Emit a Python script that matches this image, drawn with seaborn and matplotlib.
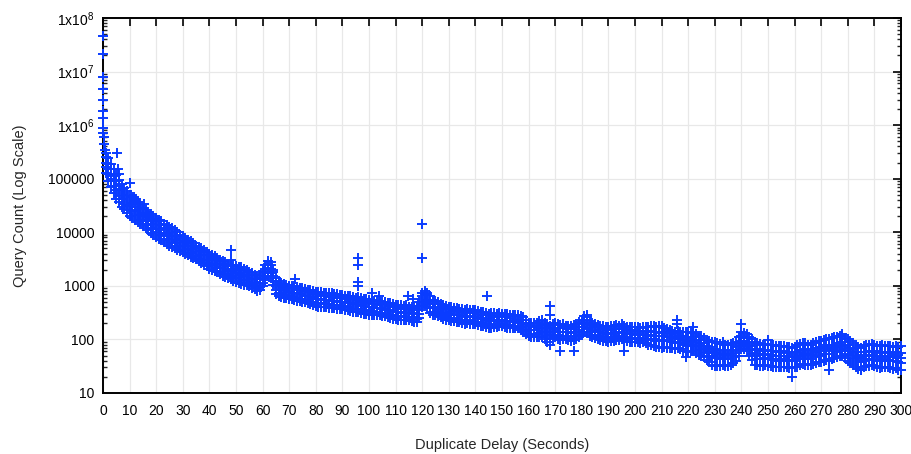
import numpy as np
import pandas as pd
import seaborn as sns
import matplotlib
import matplotlib.pyplot as plt
from matplotlib.ticker import FixedLocator, FixedFormatter, LogLocator, NullFormatter

matplotlib.use('Agg')

# per-second band of the scatter (1..300 s), read from top edge to bottom edge
seconds = list(range(1, 301))

band_hi = [
    300000, 240000, 190000, 150000, 115000, 95000, 80000, 68000, 60000, 50000,
    45000, 40000, 36000, 32000, 28000, 26000, 24000, 22000, 20000, 18500,
    17000, 16000, 14500, 13500, 12800, 11800, 10800, 10000, 9000, 8500,
    7800, 7200, 6800, 6200, 5600, 5300, 5000, 4600, 4300, 4000,
    3800, 3600, 3300, 3100, 2900, 2750, 2600, 2500, 2400, 2300,
    2250, 2200, 2050, 1950, 1800, 1700, 1600, 1500, 1600, 1900,
    2400, 2900, 2800, 2000, 1400, 1250, 1150, 1100, 1050, 1000,
    1000, 980, 950, 920, 900, 870, 840, 820, 800, 780,
    770, 760, 750, 740, 730, 720, 700, 690, 680, 680,
    660, 650, 640, 620, 600, 610, 590, 570, 560, 550,
    540, 530, 520, 520, 500, 490, 480, 470, 450, 440,
    430, 430, 420, 430, 410, 400, 410, 420, 500, 720,
    800, 750, 650, 550, 520, 490, 460, 440, 420, 400,
    395, 390, 380, 375, 370, 360, 365, 350, 355, 350,
    340, 330, 320, 310, 300, 305, 310, 300, 310, 300,
    300, 295, 290, 290, 280, 285, 270, 260, 230, 200,
    200, 200, 200, 220, 230, 200, 190, 180, 190, 200,
    190, 185, 190, 180, 180, 175, 185, 190, 210, 230,
    270, 260, 220, 200, 190, 185, 180, 175, 172, 170,
    180, 175, 185, 180, 190, 175, 172, 170, 170, 170,
    170, 165, 172, 168, 170, 175, 180, 170, 175, 180,
    165, 155, 150, 145, 140, 145, 140, 138, 135, 135,
    130, 135, 125, 118, 115, 105, 98, 92, 90, 88,
    85, 82, 88, 80, 80, 82, 85, 90, 110, 135,
    130, 125, 110, 100, 88, 85, 82, 80, 82, 80,
    80, 78, 76, 75, 75, 74, 72, 72, 70, 72,
    78, 82, 85, 84, 80, 80, 85, 90, 95, 95,
    98, 100, 100, 105, 110, 112, 115, 115, 108, 100,
    95, 85, 78, 72, 70, 75, 78, 80, 82, 80,
    76, 74, 78, 76, 75, 74, 72, 76, 72, 75,
]

band_upper = [
    250000, 185000, 150000, 112000, 92000, 73000, 65000, 53000, 47000, 40000,
    35000, 33000, 29000, 27000, 23000, 22000, 19500, 18000, 16000, 15500,
    14000, 13500, 12000, 11500, 10200, 9900, 8900, 8600, 7700, 7200,
    6600, 6300, 5700, 5500, 5000, 4800, 4400, 4200, 3800, 3700,
    3400, 3300, 3000, 2900, 2550, 2500, 2300, 2300, 2100, 2100,
    1950, 1950, 1750, 1780, 1580, 1600, 1400, 1350, 1350, 1700,
    2100, 2600, 2400, 1850, 1180, 1100, 1000, 1000, 920, 950,
    880, 910, 840, 860, 790, 810, 750, 760, 700, 710,
    660, 690, 640, 680, 630, 650, 600, 640, 590, 610,
    570, 590, 545, 565, 510, 555, 500, 515, 475, 490,
    460, 480, 445, 465, 430, 450, 410, 425, 395, 405,
    375, 395, 365, 390, 360, 370, 350, 370, 420, 650,
    700, 670, 520, 490, 450, 455, 405, 405, 365, 370,
    340, 355, 330, 345, 315, 325, 315, 320, 305, 320,
    290, 300, 280, 290, 255, 275, 265, 275, 270, 280,
    260, 270, 250, 270, 240, 265, 230, 235, 195, 185,
    175, 180, 172, 195, 185, 178, 155, 160, 162, 185,
    160, 165, 160, 172, 155, 160, 155, 172, 172, 205,
    230, 232, 185, 183, 168, 170, 155, 160, 148, 152,
    150, 156, 155, 162, 155, 158, 148, 152, 144, 152,
    140, 146, 144, 146, 135, 146, 136, 140, 134, 140,
    132, 136, 126, 132, 115, 128, 117, 118, 109, 110,
    103, 112, 97, 98, 86, 85, 75, 73, 65, 67,
    61, 63, 63, 63, 60, 64, 63, 73, 86, 115,
    108, 107, 86, 79, 64, 66, 60, 63, 61, 63,
    60, 61, 57, 60, 57, 60, 55, 57, 54, 57,
    57, 63, 63, 66, 60, 63, 63, 70, 69, 73,
    71, 79, 72, 80, 80, 87, 85, 91, 80, 79,
    69, 67, 57, 57, 52, 58, 57, 61, 60, 61,
    55, 57, 57, 59, 55, 57, 53, 58, 52, 55,
]

band_mid = [
    200000, 150000, 118000, 92000, 72000, 60000, 50000, 43000, 37000, 32000,
    29000, 26500, 24000, 21000, 19000, 17500, 16000, 14500, 13500, 12500,
    11500, 10800, 9900, 9300, 8600, 8000, 7400, 6900, 6400, 5900,
    5500, 5100, 4800, 4500, 4200, 3900, 3700, 3400, 3200, 3000,
    2850, 2700, 2550, 2350, 2150, 2050, 1950, 1900, 1800, 1700,
    1650, 1600, 1500, 1450, 1350, 1300, 1200, 1100, 1150, 1400,
    1800, 2150, 2050, 1500, 1000, 900, 850, 820, 790, 770,
    750, 740, 720, 700, 680, 660, 640, 620, 600, 580,
    570, 560, 555, 550, 540, 530, 520, 515, 505, 500,
    490, 480, 470, 460, 440, 450, 430, 420, 410, 400,
    395, 390, 385, 380, 370, 365, 355, 345, 340, 330,
    325, 320, 315, 320, 310, 300, 305, 300, 360, 540,
    600, 550, 450, 400, 390, 370, 350, 330, 315, 300,
    295, 290, 285, 280, 270, 265, 270, 260, 265, 260,
    250, 245, 240, 235, 220, 225, 230, 225, 235, 230,
    225, 220, 215, 220, 210, 215, 200, 190, 170, 150,
    150, 148, 150, 160, 160, 145, 135, 130, 140, 150,
    140, 135, 138, 140, 135, 130, 135, 140, 150, 170,
    200, 190, 160, 150, 145, 140, 135, 130, 128, 125,
    130, 128, 135, 133, 135, 130, 128, 125, 125, 125,
    122, 120, 125, 120, 118, 120, 118, 116, 117, 115,
    115, 112, 110, 108, 100, 105, 102, 98, 95, 90,
    90, 92, 85, 80, 75, 70, 65, 60, 57, 55,
    53, 52, 55, 52, 52, 53, 55, 60, 75, 95,
    95, 88, 75, 65, 56, 54, 52, 52, 53, 52,
    52, 50, 50, 49, 50, 49, 48, 47, 47, 47,
    50, 52, 55, 54, 52, 52, 55, 58, 60, 60,
    62, 65, 63, 66, 70, 72, 74, 75, 70, 65,
    60, 55, 50, 47, 45, 48, 50, 50, 52, 50,
    48, 47, 50, 49, 48, 47, 46, 48, 45, 45,
]

band_lower = [
    165000, 120000, 100000, 74000, 61000, 48000, 42000, 34000, 31000, 26000,
    24500, 21500, 20500, 17000, 16000, 14200, 13500, 11800, 11400, 10200,
    9700, 8800, 8400, 7600, 7300, 6500, 6300, 5600, 5400, 4800,
    4650, 4150, 4050, 3650, 3550, 3200, 3100, 2800, 2700, 2450,
    2400, 2200, 2150, 1920, 1820, 1680, 1650, 1550, 1520, 1390,
    1400, 1300, 1270, 1180, 1150, 1060, 1010, 900, 970, 1150,
    1520, 1760, 1720, 1230, 850, 740, 720, 670, 670, 630,
    640, 605, 610, 575, 575, 540, 540, 505, 510, 475,
    485, 460, 470, 450, 460, 435, 440, 420, 430, 410,
    415, 395, 400, 375, 375, 370, 365, 345, 350, 330,
    335, 320, 325, 310, 315, 300, 300, 285, 290, 270,
    275, 262, 268, 262, 262, 246, 258, 245, 300, 450,
    505, 450, 380, 330, 330, 305, 295, 270, 268, 246,
    250, 238, 242, 230, 230, 218, 228, 213, 225, 213,
    212, 200, 204, 193, 186, 185, 195, 185, 200, 188,
    190, 180, 183, 180, 178, 176, 170, 155, 145, 123,
    128, 121, 128, 131, 136, 119, 115, 106, 119, 123,
    119, 110, 117, 115, 115, 107, 115, 115, 128, 139,
    170, 156, 136, 123, 123, 115, 115, 107, 109, 102,
    110, 105, 115, 109, 115, 107, 109, 102, 106, 102,
    104, 98, 106, 98, 100, 98, 100, 95, 99, 94,
    98, 92, 94, 88, 85, 86, 87, 80, 81, 74,
    77, 75, 72, 66, 64, 57, 55, 49, 48, 45,
    45, 43, 47, 43, 44, 43, 47, 49, 64, 78,
    81, 72, 64, 53, 48, 44, 44, 43, 45, 43,
    44, 41, 43, 40, 43, 40, 41, 39, 40, 39,
    43, 43, 47, 44, 44, 43, 47, 48, 51, 49,
    53, 53, 54, 54, 60, 59, 63, 61, 60, 53,
    51, 45, 43, 39, 38, 39, 43, 41, 44, 41,
    41, 39, 43, 40, 41, 39, 39, 40, 38, 37,
]

band_lo = [
    130000, 90000, 70000, 55000, 42000, 36000, 30000, 27000, 23000, 20000,
    18500, 17000, 15500, 14000, 13000, 12000, 10800, 9800, 9000, 8200,
    7600, 7100, 6600, 6100, 5600, 5300, 5000, 4700, 4400, 4200,
    3900, 3700, 3500, 3300, 3200, 2900, 2700, 2500, 2300, 2100,
    2000, 1900, 1800, 1650, 1550, 1450, 1400, 1350, 1250, 1200,
    1150, 1100, 1050, 1020, 980, 930, 860, 800, 830, 1000,
    1300, 1500, 1400, 1050, 700, 650, 620, 600, 590, 580,
    560, 550, 530, 520, 510, 490, 470, 450, 440, 420,
    410, 405, 400, 395, 390, 385, 380, 375, 370, 365,
    355, 350, 340, 330, 320, 325, 310, 300, 295, 290,
    285, 285, 280, 280, 275, 270, 260, 255, 245, 240,
    235, 235, 230, 235, 230, 220, 215, 210, 250, 400,
    420, 380, 310, 290, 290, 275, 260, 245, 235, 230,
    225, 220, 215, 210, 200, 195, 200, 195, 195, 190,
    185, 180, 175, 170, 160, 165, 170, 170, 175, 180,
    170, 165, 160, 165, 160, 160, 150, 140, 125, 115,
    112, 110, 110, 110, 110, 100, 90, 80, 100, 110,
    100, 98, 100, 100, 98, 95, 98, 100, 110, 120,
    140, 130, 115, 110, 108, 102, 98, 95, 92, 90,
    95, 92, 98, 96, 100, 95, 92, 90, 90, 90,
    88, 85, 88, 85, 80, 78, 75, 72, 72, 70,
    72, 70, 70, 68, 65, 68, 65, 62, 60, 58,
    60, 60, 56, 52, 50, 46, 42, 38, 34, 32,
    32, 32, 34, 32, 32, 34, 36, 40, 50, 65,
    65, 60, 50, 42, 34, 33, 32, 32, 33, 32,
    32, 31, 31, 30, 31, 30, 30, 29, 30, 30,
    31, 33, 35, 34, 33, 33, 35, 37, 38, 38,
    40, 42, 40, 43, 45, 46, 48, 48, 45, 40,
    36, 33, 30, 28, 27, 30, 32, 32, 34, 32,
    30, 29, 31, 30, 30, 29, 28, 29, 27, 27,
]

# first second (sub-second bins) and stray points off the band
early_t = [0.0, 0.0, 0.0, 0.0, 0.0, 0.0, 0.1, 0.1, 0.2, 0.3, 0.5, 0.7]
early_n = [46000000, 21000000, 7800000, 4700000, 3000000, 1800000,
           1350000, 880000, 700000, 600000, 450000, 350000]

stray_t = [5.3, 5.6, 6.2, 10.3, 11.5, 12.5, 15.3, 17.5, 20.0, 24.0, 30.5, 31.5,
           48.2, 48.2, 51.6, 72.3, 96.0, 96.0, 96.0, 96.0, 101.1, 103.6,
           114.8, 116.7, 120.0, 120.0, 144.2, 168.2, 168.2, 172.0, 177.0,
           182.0, 196.0, 215.7, 215.7, 219.0, 221.7, 240.0, 250.0, 259.0,
           273.0, 278.0, 285.0]
stray_n = [300000, 150000, 120000, 83000, 46000, 42000, 33000, 20000, 18000, 13500,
           7700, 6500, 4600, 3000, 2150, 1370, 3300, 2500, 1200, 1000, 720, 650,
           650, 570, 14000, 3300, 650, 420, 280, 60, 62, 280, 61, 230, 190, 46,
           170, 190, 96, 20, 27, 125, 27]

ytick_vals = [10, 100, 1000, 10000, 100000, 1e6, 1e7, 1e8]
ytick_text = ['10', '100', '1000', '10000', '100000',
              '1x10$^{6}$', '1x10$^{7}$', '1x10$^{8}$']
xtick_vals = list(range(0, 301, 10))

df = pd.concat([
    pd.DataFrame({'delay': seconds, 'count': band_hi}),
    pd.DataFrame({'delay': seconds, 'count': band_upper}),
    pd.DataFrame({'delay': seconds, 'count': band_mid}),
    pd.DataFrame({'delay': seconds, 'count': band_lower}),
    pd.DataFrame({'delay': seconds, 'count': band_lo}),
    pd.DataFrame({'delay': early_t, 'count': early_n}),
    pd.DataFrame({'delay': stray_t, 'count': stray_n}),
], ignore_index=True)

sns.set_theme(style='white')
plt.rcParams['font.family'] = ['Liberation Sans', 'DejaVu Sans']
plt.rcParams['mathtext.fontset'] = 'custom'
plt.rcParams['mathtext.rm'] = 'Liberation Sans'
plt.rcParams['mathtext.it'] = 'Liberation Sans'

fig = plt.figure(figsize=(9.11, 4.54), dpi=100)
ax = fig.add_axes([0.113, 0.1344, 0.876, 0.826])

sns.scatterplot(data=df, x='delay', y='count', marker='+', s=55, color='#0a3cff',
                linewidth=1.4, ax=ax, clip_on=False, zorder=3, legend=False)

ax.set_yscale('log')
ax.set_xlim(0, 300)
ax.set_ylim(10, 1e8)

ax.xaxis.set_major_locator(FixedLocator(xtick_vals))
ax.yaxis.set_major_locator(FixedLocator(ytick_vals))
ax.yaxis.set_major_formatter(FixedFormatter(ytick_text))
ax.yaxis.set_minor_locator(LogLocator(base=10, subs=np.arange(2, 10), numticks=20))
ax.yaxis.set_minor_formatter(NullFormatter())

ax.grid(True, which='major', color='#e8e8e8', linewidth=0.9)
ax.set_axisbelow(True)
for sp in ax.spines.values():
    sp.set_color('black')
    sp.set_linewidth(1.4)

ax.tick_params(axis='both', which='major', direction='in', length=6, width=1.2,
               top=True, right=True, labelsize=10, colors='black', pad=6)
ax.tick_params(axis='y', which='minor', direction='in', length=3, width=1.0,
               left=True, right=True)
ax.tick_params(axis='x', which='major', pad=8)

ax.set_xlabel('Duplicate Delay (Seconds)', fontsize=10.5, labelpad=14)
ax.set_ylabel('Query Count (Log Scale)', fontsize=10.5, labelpad=15)

plt.savefig('out.png', dpi=100)
plt.close()
